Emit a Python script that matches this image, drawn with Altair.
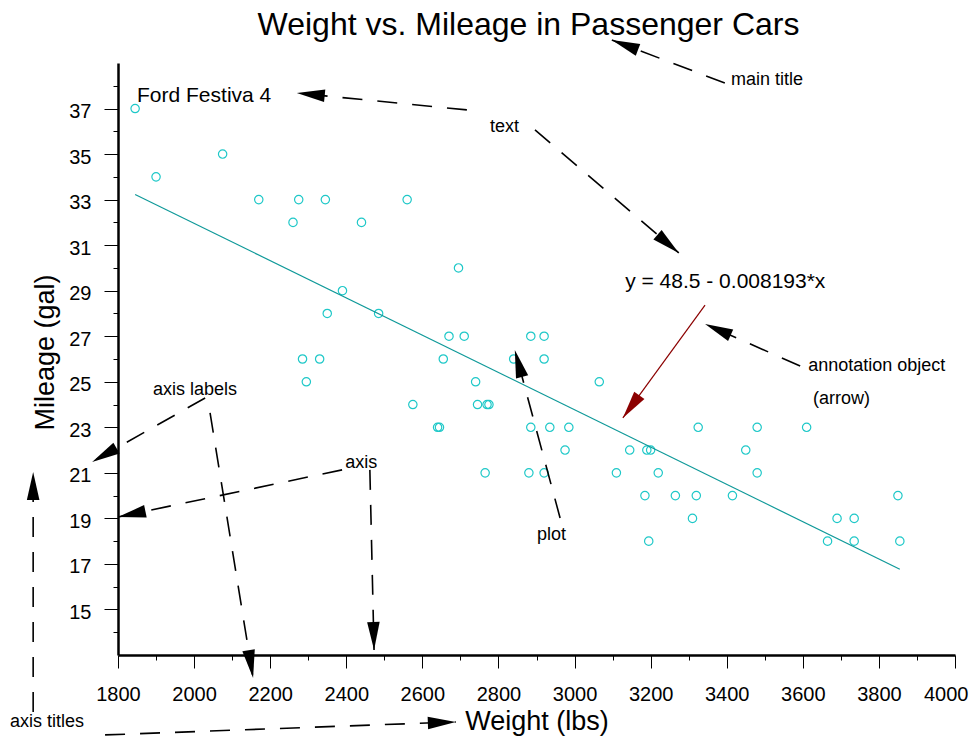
import math
import altair as alt
import pandas as pd

# ---- scatter data ----
weight = [1845,
          2075,
          1900,
          2170, 2275, 2345, 2560,
          2260, 2440,
          2695,
          2390,
          2350, 2485,
          2670, 2710, 2885, 2920,
          2285, 2330, 2655, 2840, 2920,
          2295, 2740, 3065,
          2575, 2745, 2770, 2775,
          2640, 2645, 2885, 2935, 2985, 3325, 3480, 3610,
          2975, 3145, 3190, 3200, 3450,
          2765, 2880, 2920, 3110, 3220, 3480,
          3185, 3265, 3320, 3415, 3850,
          3310, 3690, 3735,
          3195, 3665, 3735, 3855]
mileage = [37,
           35,
           34,
           33, 33, 33, 33,
           32, 32,
           30,
           29,
           28, 28,
           27, 27, 27, 27,
           26, 26, 26, 26, 26,
           25, 25, 25,
           24, 24, 24, 24,
           23, 23, 23, 23, 23, 23, 23, 23,
           22, 22, 22, 22, 22,
           21, 21, 21, 21, 21, 21,
           20, 20, 20, 20, 20,
           19, 19, 19,
           18, 18, 18, 18]

# ---- annotation arrows (data units: weight, mileage) ----
dash_tail_w = [3395, 2717, 2896, 3593, 2029, 2042, 2389, 2462, 2962, 1766, 1577]
dash_tail_m = [38.12, 36.94, 36.06, 25.69, 24.29, 23.63, 21.13, 21.13, 19.02, 9.49, 10.50]
dash_tip_w = [3098, 2270, 3274, 3343, 1732, 2155, 1800, 2473, 2843, 2688, 1577]
dash_tip_m = [40.01, 37.68, 30.66, 27.54, 21.48, 11.99, 19.06, 13.22, 26.40, 10.06, 21.04]

red_tail_w = [3343]
red_tail_m = [28.37]
red_tip_w = [3127]
red_tip_m = [23.41]

# ---- annotation texts ----
small_text = ["main title", "text", "annotation object", "(arrow)",
              "axis labels", "axis", "plot", "axis titles"]
small_w = [3411, 2778, 3614, 3627, 1892, 2397, 2901, 1516]
small_m = [38.25, 36.19, 25.69, 24.24, 24.64, 21.43, 18.27, 10.06]

big_text = ["Ford Festiva 4", "y = 48.5 - 0.008193*x"]
big_w = [1850, 3133]
big_m = [37.55, 29.38]

x_major = list(range(1800, 4001, 200))
x_minor = list(range(1900, 4000, 200))
y_major = list(range(15, 38, 2))
y_minor = list(range(14, 39, 2))

W, H = 837, 592
XDOM = [1800, 4000]
YDOM = [13, 39]
FONT = "Liberation Sans"

kx = W / (XDOM[1] - XDOM[0])
ky = H / (YDOM[1] - YDOM[0])


def head_angle(tw, tm, hw, hm):
    dx = (hw - tw) * kx
    dy = -(hm - tm) * ky
    return math.degrees(math.atan2(dx, -dy)) % 360


xs = alt.Scale(domain=XDOM, nice=False, zero=False)
ys = alt.Scale(domain=YDOM, nice=False, zero=False)

pts = pd.DataFrame({"Weight": weight, "Mileage": mileage})

last_x = "datum.value == %d" % XDOM[1]
x_axis = alt.Axis(
    orient="bottom", values=x_major, format="d", tickSize=13,
    labelPadding=16, labelFontSize=20, labelFlush=False, labelOverlap=False,
    labelAlign={"condition": {"test": last_x, "value": "right"}, "value": "center"},
    labelOffset={"condition": {"test": last_x, "value": 13}, "value": 0},
    title="Weight (lbs)", titleFontSize=27, titleBaseline="alphabetic", titleY=74,
)
y_axis = alt.Axis(
    orient="left", values=y_major, format="d", tickSize=14,
    labelPadding=13, labelFontSize=20, labelOverlap=False, labelFlush=False,
    labelBaseline="alphabetic", labelOffset=9,
    title="Mileage (gal)", titleFontSize=27, titleAngle=270,
    titleBaseline="alphabetic", titleX=-65, titleY=289, titleAlign="center",
)
x_axis_minor = alt.Axis(
    orient="bottom", values=x_minor, tickSize=5, labels=False, domain=False, title=None,
)
y_axis_minor = alt.Axis(
    orient="left", values=y_minor, tickSize=5, labels=False, domain=False, title=None,
)

scatter = alt.Chart(pts).mark_point(
    shape="circle", filled=False, color="#1ec8c8", size=70, strokeWidth=1.2, opacity=1
).encode(
    x=alt.X("Weight:Q", scale=xs, axis=x_axis),
    y=alt.Y("Mileage:Q", scale=ys, axis=y_axis),
)

fit = alt.Chart(pts).transform_regression("Weight", "Mileage").mark_line(
    color="#0f9999", strokeWidth=1.2
).encode(
    x=alt.X("Weight:Q", scale=xs, axis=x_axis_minor),
    y=alt.Y("Mileage:Q", scale=ys, axis=y_axis_minor),
)

dash_df = pd.DataFrame({"tw": dash_tail_w, "tm": dash_tail_m, "hw": dash_tip_w, "hm": dash_tip_m})
dash_df["ang"] = [head_angle(*r) for r in zip(dash_tail_w, dash_tail_m, dash_tip_w, dash_tip_m)]
red_df = pd.DataFrame({"tw": red_tail_w, "tm": red_tail_m, "hw": red_tip_w, "hm": red_tip_m})
red_df["ang"] = [head_angle(*r) for r in zip(red_tail_w, red_tail_m, red_tip_w, red_tip_m)]

dashes = alt.Chart(dash_df).mark_rule(color="black", strokeWidth=1.6, strokeDash=[20, 15]).encode(
    x=alt.X("tw:Q", scale=xs, axis=None), y=alt.Y("tm:Q", scale=ys, axis=None),
    x2="hw:Q", y2="hm:Q",
)
red_line = alt.Chart(red_df).mark_rule(color="#8b0000", strokeWidth=1.2).encode(
    x=alt.X("tw:Q", scale=xs, axis=None), y=alt.Y("tm:Q", scale=ys, axis=None),
    x2="hw:Q", y2="hm:Q",
)

HEAD = "M0,0L0.45,2L-0.45,2Z"
heads = alt.Chart(dash_df).mark_point(
    shape=HEAD, filled=True, color="black", size=784, opacity=1, strokeWidth=0
).encode(
    x=alt.X("hw:Q", scale=xs, axis=None), y=alt.Y("hm:Q", scale=ys, axis=None),
    angle=alt.Angle("ang:Q", scale=None),
)
red_head = alt.Chart(red_df).mark_point(
    shape=HEAD, filled=True, color="#8b0000", size=784, opacity=1, strokeWidth=0
).encode(
    x=alt.X("hw:Q", scale=xs, axis=None), y=alt.Y("hm:Q", scale=ys, axis=None),
    angle=alt.Angle("ang:Q", scale=None),
)

small_df = pd.DataFrame({"t": small_text, "w": small_w, "m": small_m})
big_df = pd.DataFrame({"t": big_text, "w": big_w, "m": big_m})

small_lbl = alt.Chart(small_df).mark_text(
    align="left", baseline="middle", font=FONT, fontSize=18, color="black"
).encode(x=alt.X("w:Q", scale=xs, axis=None), y=alt.Y("m:Q", scale=ys, axis=None), text="t:N")
big_lbl = alt.Chart(big_df).mark_text(
    align="left", baseline="middle", font=FONT, fontSize=21, color="black"
).encode(x=alt.X("w:Q", scale=xs, axis=None), y=alt.Y("m:Q", scale=ys, axis=None), text="t:N")

chart = alt.layer(
    scatter, fit, dashes, red_line, heads, red_head, small_lbl, big_lbl
).resolve_axis(
    x="independent", y="independent"
).properties(
    width=W, height=H,
    title=alt.TitleParams(
        "Weight vs. Mileage in Passenger Cars", font=FONT, fontSize=32,
        fontWeight="normal", color="black", anchor="middle", frame="group",
        baseline="alphabetic", offset=-28, dx=-8,
    ),
    autosize=alt.AutoSizeParams(type="none"),
    padding={"left": 110, "top": 55, "right": 14, "bottom": 83},
).configure_view(stroke=None).configure_axis(
    grid=False, domainColor="black", domainWidth=2.5, tickColor="black",
    tickWidth=1, labelFont=FONT, titleFont=FONT, labelColor="black",
    titleColor="black", titleFontWeight="normal",
)

chart.save("out.html", embed_options={"renderer": "svg", "actions": False})
